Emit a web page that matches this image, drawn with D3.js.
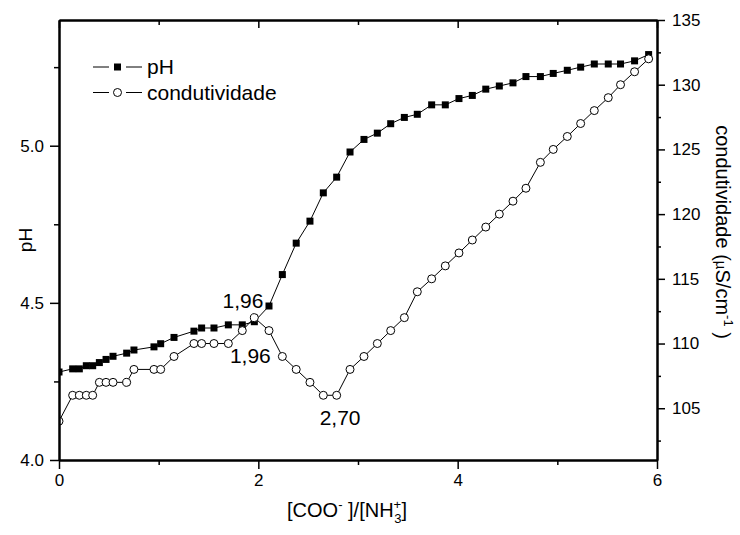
<!DOCTYPE html>
<html>
<head>
<meta charset="utf-8">
<script src="https://cdn.jsdelivr.net/npm/d3@7"></script>
<style>
  html, body { margin: 0; padding: 0; background: #fff; }
  svg { display: block; font-family: "Liberation Sans", Arial, sans-serif; }
</style>
</head>
<body>
<svg id="chart" width="740" height="535"></svg>
<script>
// [COO-]/[NH3+] molar ratio at each titration point
const ratio = [0, 0.137, 0.204, 0.274, 0.338, 0.405, 0.472, 0.542, 0.679, 0.752,
  0.953, 1.020, 1.154, 1.354, 1.431, 1.555, 1.699, 1.839, 1.96, 2.107,
  2.241, 2.380, 2.518, 2.652, 2.786, 2.920, 3.060, 3.194, 3.328, 3.465,
  3.595, 3.739, 3.876, 4.013, 4.147, 4.282, 4.418, 4.555, 4.685, 4.830,
  4.959, 5.100, 5.234, 5.371, 5.511, 5.634, 5.775, 5.916];

// pH read at each point
const pH = [4.28, 4.29, 4.29, 4.30, 4.30, 4.31, 4.32, 4.33, 4.34, 4.35,
  4.36, 4.37, 4.39, 4.41, 4.42, 4.42, 4.43, 4.43, 4.44, 4.49,
  4.59, 4.69, 4.76, 4.85, 4.90, 4.98, 5.02, 5.04, 5.07, 5.09,
  5.10, 5.13, 5.13, 5.15, 5.16, 5.18, 5.19, 5.20, 5.22, 5.22,
  5.23, 5.24, 5.25, 5.26, 5.26, 5.26, 5.27, 5.29];

// conductivity (µS/cm) at each point
const conductivity = [104, 106, 106, 106, 106, 107, 107, 107, 107, 108,
  108, 108, 109, 110, 110, 110, 110, 111, 112, 111,
  109, 108, 107, 106, 106, 108, 109, 110, 111, 112,
  114, 115, 116, 117, 118, 119, 120, 121, 122, 124,
  125, 126, 127, 128, 129, 130, 131, 132];

// tick values
const xTicks = [0, 2, 4, 6];
const xMinor = [1, 3, 5];
const pHTicks = [4.0, 4.5, 5.0];
const pHMinor = [4.25, 4.75, 5.25];
const condTicks = [105, 110, 115, 120, 125, 130, 135];
const condMinor = [102.5, 107.5, 112.5, 117.5, 122.5, 127.5, 132.5];

// annotated turning points: ratio value and label
const notes = [
  { series: "pH", at: 1.96, label: "1,96" },
  { series: "cond", at: 1.96, label: "1,96" },
  { series: "cond", at: 2.70, label: "2,70" }
];

const svg = d3.select("#chart");
const pLeft = 59, pRight = 657, pTop = 20, pBottom = 460;

const x = d3.scaleLinear().domain([0, 6]).range([pLeft, pRight]);
const yPH = d3.scaleLinear().domain([4.0, 5.4]).range([pBottom, pTop]);
const yC = d3.scaleLinear().domain([101, 135]).range([pBottom, pTop]);

const pts = ratio.map((r, i) => ({ r, ph: pH[i], c: conductivity[i] }));

svg.append("defs").append("clipPath").attr("id", "plotClip")
  .append("rect").attr("x", pLeft).attr("y", pTop)
  .attr("width", pRight - pLeft).attr("height", pBottom - pTop);

const plot = svg.append("g").attr("clip-path", "url(#plotClip)");

// connecting lines
plot.append("path").datum(pts)
  .attr("fill", "none").attr("stroke", "#000").attr("stroke-width", 1)
  .attr("d", d3.line().x(d => x(d.r)).y(d => yPH(d.ph)));
plot.append("path").datum(pts)
  .attr("fill", "none").attr("stroke", "#000").attr("stroke-width", 1)
  .attr("d", d3.line().x(d => x(d.r)).y(d => yC(d.c)));

// pH markers: filled squares
const sq = 7;
plot.selectAll("rect.ph").data(pts).join("rect")
  .attr("class", "ph")
  .attr("x", d => x(d.r) - sq / 2).attr("y", d => yPH(d.ph) - sq / 2)
  .attr("width", sq).attr("height", sq).attr("fill", "#000");

// conductivity markers: open circles
plot.selectAll("circle.cond").data(pts).join("circle")
  .attr("class", "cond")
  .attr("cx", d => x(d.r)).attr("cy", d => yC(d.c)).attr("r", 4)
  .attr("fill", "#fff").attr("stroke", "#000").attr("stroke-width", 1);

// axes
function styleAxis(g) {
  g.selectAll(".domain").attr("stroke", "#000").attr("stroke-width", 2);
  g.selectAll(".tick line").attr("stroke", "#000").attr("stroke-width", 1.5);
  g.selectAll(".tick text").attr("font-size", 17).attr("fill", "#000")
    .attr("font-family", "'Liberation Sans', Arial, sans-serif");
}

svg.append("g").attr("transform", `translate(0,${pBottom})`)
  .call(d3.axisBottom(x).tickValues(xTicks).tickFormat(d3.format("d"))
    .tickSize(9).tickSizeOuter(0).tickPadding(5))
  .call(styleAxis);
svg.append("g").attr("transform", `translate(0,${pBottom})`)
  .call(d3.axisBottom(x).tickValues(xMinor).tickFormat("").tickSize(5).tickSizeOuter(0))
  .call(styleAxis);

svg.append("g").attr("transform", `translate(0,${pTop})`)
  .call(d3.axisBottom(x).tickValues(xTicks).tickFormat("").tickSize(8).tickSizeOuter(0))
  .call(styleAxis);
svg.append("g").attr("transform", `translate(0,${pTop})`)
  .call(d3.axisBottom(x).tickValues(xMinor).tickFormat("").tickSize(5).tickSizeOuter(0))
  .call(styleAxis);

svg.append("g").attr("transform", `translate(${pLeft},0)`)
  .call(d3.axisLeft(yPH).tickValues(pHTicks).tickFormat(d3.format(".1f"))
    .tickSize(9).tickSizeOuter(0).tickPadding(6))
  .call(styleAxis);
svg.append("g").attr("transform", `translate(${pLeft},0)`)
  .call(d3.axisLeft(yPH).tickValues(pHMinor).tickFormat("").tickSize(5).tickSizeOuter(0))
  .call(styleAxis);

svg.append("g").attr("transform", `translate(${pRight},0)`)
  .call(d3.axisRight(yC).tickValues(condTicks).tickFormat(d3.format("d"))
    .tickSize(8).tickSizeOuter(0).tickPadding(7))
  .call(styleAxis);
svg.append("g").attr("transform", `translate(${pRight},0)`)
  .call(d3.axisRight(yC).tickValues(condMinor).tickFormat("").tickSize(4).tickSizeOuter(0))
  .call(styleAxis);

// axis titles
svg.append("text")
  .attr("transform", `translate(32,${(pTop + pBottom) / 2}) rotate(-90)`)
  .attr("text-anchor", "middle").attr("font-size", 19).text("pH");

const rt = svg.append("text")
  .attr("transform", `translate(716,${(pTop + pBottom) / 2 - 8}) rotate(90)`)
  .attr("text-anchor", "middle").attr("font-size", 20);
rt.append("tspan").text("condutividade (");
rt.append("tspan").attr("font-size", 15).text("µ");
rt.append("tspan").text("S/cm");
rt.append("tspan").attr("font-size", 13).attr("dy", -8).text("-1");
rt.append("tspan").attr("dy", 8).text(" )");

const bt = svg.append("text")
  .attr("x", 287).attr("y", 517).attr("font-size", 20);
bt.append("tspan").text("[COO");
bt.append("tspan").attr("font-size", 13).attr("dy", -8).text("-");
bt.append("tspan").attr("dy", 8).text(" ]/[NH");
bt.append("tspan").attr("font-size", 13).attr("dy", -8).text("+");
bt.append("tspan").attr("font-size", 13).attr("dx", -7).attr("dy", 14).text("3");
bt.append("tspan").attr("dy", -6).text("]");

// annotations at the turning points
const cond = r => conductivity[ratio.indexOf(r)];
const a0 = notes[0], a1 = notes[1], a2 = notes[2];
const valley = d3.min(pts.filter(d => d.r > 2), d => d.c);
svg.append("text").attr("font-size", 21).attr("text-anchor", "end")
  .attr("x", x(a0.at) + 9).attr("y", yPH(pH[ratio.indexOf(a0.at)]) - 14)
  .text(a0.label);
svg.append("text").attr("font-size", 21).attr("text-anchor", "middle")
  .attr("x", x(a1.at) - 4).attr("y", yC(cond(a1.at)) + 45)
  .text(a1.label);
svg.append("text").attr("font-size", 21).attr("text-anchor", "middle")
  .attr("x", x(a2.at) + 12).attr("y", yC(valley) + 30)
  .text(a2.label);

// legend
const legend = svg.append("g");
const rows = [{ name: "pH", type: "square" }, { name: "condutividade", type: "circle" }];
rows.forEach((row, i) => {
  const cy = 67 + i * 25.5;
  legend.append("line").attr("x1", 93).attr("x2", 109).attr("y1", cy).attr("y2", cy)
    .attr("stroke", "#000").attr("stroke-width", 1);
  legend.append("line").attr("x1", 126).attr("x2", 142).attr("y1", cy).attr("y2", cy)
    .attr("stroke", "#000").attr("stroke-width", 1);
  if (row.type === "square") {
    legend.append("rect").attr("x", 117.5 - sq / 2).attr("y", cy - sq / 2)
      .attr("width", sq).attr("height", sq).attr("fill", "#000");
  } else {
    legend.append("circle").attr("cx", 117.5).attr("cy", cy).attr("r", 4)
      .attr("fill", "#fff").attr("stroke", "#000");
  }
  legend.append("text").attr("x", 147).attr("y", cy + 7).attr("font-size", 21).text(row.name);
});
</script>
</body>
</html>
